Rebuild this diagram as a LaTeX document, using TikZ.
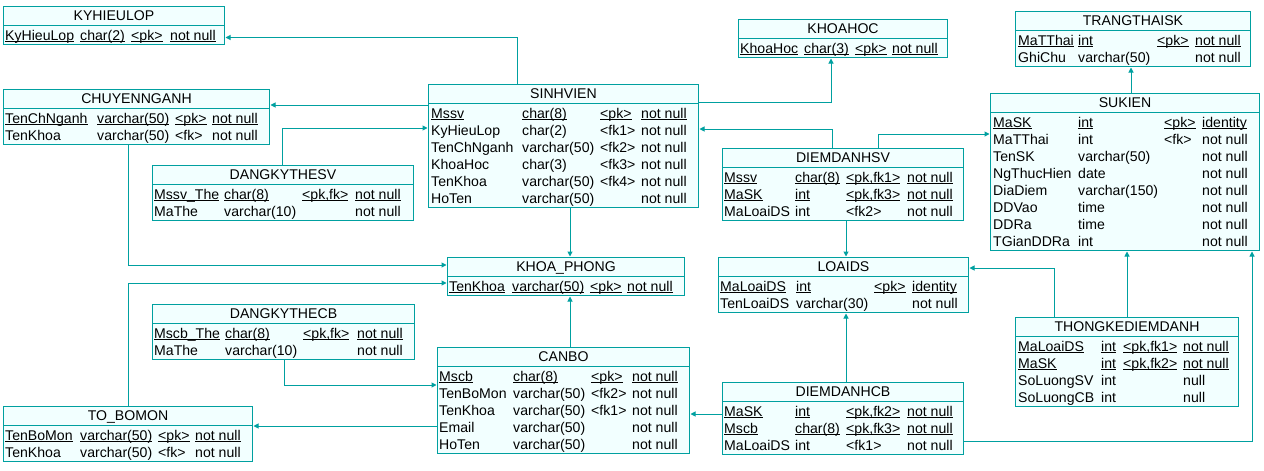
\documentclass[tikz,border=0pt]{standalone}
\usepackage{fontspec}
\setmainfont{Liberation Sans}
\usetikzlibrary{arrows.meta,positioning,calc}

\definecolor{tealLine}{RGB}{0,160,160}
\definecolor{tableFill}{RGB}{242,255,255}

\newcommand{\tablefont}{\fontsize{14.1}{16}\selectfont}
% underline at one fixed depth
\newcommand{\ul}[1]{\setbox0\hbox{#1}\rlap{\rule[-2pt]{\wd0}{0.75pt}}\box0}
% table: name, title, x, y (top left), width, number of rows
\newcommand{\dbtable}[6]{%
  \def\tblName{#1}\def\tblTop{#4}%
  \pgfmathsetmacro{\tblH}{21+17*#6}%
  \node[tbl, minimum width=#5pt, minimum height=\tblH pt] (#1) at (#3,#4) {};
  \draw[tblline] ([yshift=-19pt]#1.north west) -- ([yshift=-19pt]#1.north east);
  \node[title] (#1-title) at ([yshift=-14.5pt]#1.north) {#2};
}
\newcommand{\setcols}[4]{\def\colA{#1}\def\colB{#2}\def\colC{#3}\def\colD{#4}}
\newcommand{\dbrow}[5]{%
  \pgfmathsetmacro{\rowY}{\tblTop+34+17*(#1-1)}%
  \node[cell] (\tblName-#1a) at (\colA,\rowY) {#2};
  \node[cell] (\tblName-#1b) at (\colB,\rowY) {#3};
  \node[cell] (\tblName-#1c) at (\colC,\rowY) {#4};
  \node[cell] (\tblName-#1d) at (\colD,\rowY) {#5};
}
\newcommand{\dbkey}[5]{\dbrow{#1}{\ul{#2}}{\ul{#3}}{\ul{#4}}{\ul{#5}}}

\begin{document}
\begin{tikzpicture}[
    x=1pt, y=-1pt,
    % Styles
    tbl/.style={draw=tealLine, fill=tableFill, line width=1pt, inner sep=0pt, anchor=north west},
    tblline/.style={draw=tealLine, line width=1pt},
    title/.style={font=\tablefont, inner sep=0pt, anchor=base},
    cell/.style={font=\tablefont, inner sep=0pt, anchor=base west},
    fk/.style={-{Triangle[length=5pt,width=5pt]}, draw=tealLine, line width=1pt, shorten >=0.5pt}
  ]

  \path[fill=white] (0,0) rectangle (1264,471);
  \useasboundingbox (0,0) rectangle (1264,471);

  % --- 1. TABLES, LEFT ---
  \dbtable{kyhieulop}{KYHIEULOP}{3}{6}{221}{1}
  \setcols{5}{80}{131}{170}
  \dbkey{1}{KyHieuLop}{char(2)}{<pk>}{not null}

  \dbtable{chuyennganh}{CHUYENNGANH}{3}{89}{266}{2}
  \setcols{5}{97}{175}{212}
  \dbkey{1}{TenChNganh}{varchar(50)}{<pk>}{not null}
  \dbrow{2}{TenKhoa}{varchar(50)}{<fk>}{not null}

  \dbtable{dangkythesv}{DANGKYTHESV}{152}{165}{261}{2}
  \setcols{154}{224}{302}{355}
  \dbkey{1}{Mssv\_The}{char(8)}{<pk,fk>}{not null}
  \dbrow{2}{MaThe}{varchar(10)}{}{not null}

  \dbtable{dangkythecb}{DANGKYTHECB}{152}{304}{262}{2}
  \setcols{154}{225}{303}{357}
  \dbkey{1}{Mscb\_The}{char(8)}{<pk,fk>}{not null}
  \dbrow{2}{MaThe}{varchar(10)}{}{not null}

  \dbtable{tobomon}{TO\_BOMON}{3}{406}{249}{2}
  \setcols{5}{80}{158}{195}
  \dbkey{1}{TenBoMon}{varchar(50)}{<pk>}{not null}
  \dbrow{2}{TenKhoa}{varchar(50)}{<fk>}{not null}

  % --- 2. TABLES, MIDDLE ---
  \dbtable{sinhvien}{SINHVIEN}{428}{84}{270}{6}
  \setcols{431}{522}{600}{641}
  \dbkey{1}{Mssv}{char(8)}{<pk>}{not null}
  \dbrow{2}{KyHieuLop}{char(2)}{<fk1>}{not null}
  \dbrow{3}{TenChNganh}{varchar(50)}{<fk2>}{not null}
  \dbrow{4}{KhoaHoc}{char(3)}{<fk3>}{not null}
  \dbrow{5}{TenKhoa}{varchar(50)}{<fk4>}{not null}
  \dbrow{6}{HoTen}{varchar(50)}{}{not null}

  \dbtable{khoaphong}{KHOA\_PHONG}{447}{257}{237}{1}
  \setcols{449}{512}{590}{627}
  \dbkey{1}{TenKhoa}{varchar(50)}{<pk>}{not null}

  \dbtable{canbo}{CANBO}{437}{347}{252}{5}
  \setcols{439}{513}{591}{632}
  \dbkey{1}{Mscb}{char(8)}{<pk>}{not null}
  \dbrow{2}{TenBoMon}{varchar(50)}{<fk2>}{not null}
  \dbrow{3}{TenKhoa}{varchar(50)}{<fk1>}{not null}
  \dbrow{4}{Email}{varchar(50)}{}{not null}
  \dbrow{5}{HoTen}{varchar(50)}{}{not null}

  \dbtable{khoahoc}{KHOAHOC}{738}{19}{209}{1}
  \setcols{740}{804}{855}{892}
  \dbkey{1}{KhoaHoc}{char(3)}{<pk>}{not null}

  \dbtable{diemdanhsv}{DIEMDANHSV}{722}{148}{241}{3}
  \setcols{724}{795}{846}{907}
  \dbkey{1}{Mssv}{char(8)}{<pk,fk1>}{not null}
  \dbkey{2}{MaSK}{int}{<pk,fk3>}{not null}
  \dbrow{3}{MaLoaiDS}{int}{<fk2>}{not null}

  \dbtable{loaids}{LOAIDS}{718}{257}{250}{2}
  \setcols{720}{796}{874}{912}
  \dbkey{1}{MaLoaiDS}{int}{<pk>}{identity}
  \dbrow{2}{TenLoaiDS}{varchar(30)}{}{not null}

  \dbtable{diemdanhcb}{DIEMDANHCB}{722}{382}{241}{3}
  \setcols{724}{795}{846}{907}
  \dbkey{1}{MaSK}{int}{<pk,fk2>}{not null}
  \dbkey{2}{Mscb}{char(8)}{<pk,fk3>}{not null}
  \dbrow{3}{MaLoaiDS}{int}{<fk1>}{not null}

  % --- 3. TABLES, RIGHT ---
  \dbtable{trangthaisk}{TRANGTHAISK}{1015}{11}{235}{2}
  \setcols{1018}{1078}{1157}{1195}
  \dbkey{1}{MaTThai}{int}{<pk>}{not null}
  \dbrow{2}{GhiChu}{varchar(50)}{}{not null}

  \dbtable{sukien}{SUKIEN}{990}{93}{269}{8}
  \setcols{993}{1078}{1164}{1202}
  \dbkey{1}{MaSK}{int}{<pk>}{identity}
  \dbrow{2}{MaTThai}{int}{<fk>}{not null}
  \dbrow{3}{TenSK}{varchar(50)}{}{not null}
  \dbrow{4}{NgThucHien}{date}{}{not null}
  \dbrow{5}{DiaDiem}{varchar(150)}{}{not null}
  \dbrow{6}{DDVao}{time}{}{not null}
  \dbrow{7}{DDRa}{time}{}{not null}
  \dbrow{8}{TGianDDRa}{int}{}{not null}

  \dbtable{thongke}{THONGKEDIEMDANH}{1015}{317}{223}{4}
  \setcols{1018}{1101}{1123}{1183}
  \dbkey{1}{MaLoaiDS}{int}{<pk,fk1>}{not null}
  \dbkey{2}{MaSK}{int}{<pk,fk2>}{not null}
  \dbrow{3}{SoLuongSV}{int}{}{null}
  \dbrow{4}{SoLuongCB}{int}{}{null}

  % --- 4. REFERENCES ---
  \draw[fk] (sinhvien.north -| 517,0) |- (kyhieulop.east |- 0,37.5);
  \draw[fk] (sinhvien.west |- 0,105) -- (chuyennganh.east |- 0,105);
  \draw[fk] (dangkythesv.north -| 282,0) |- (sinhvien.west |- 0,128);
  \draw[fk] (chuyennganh.south -| 128,0) |- (khoaphong.west |- 0,265);
  \draw[fk] (tobomon.north -| 128,0) |- (khoaphong.west |- 0,283);
  \draw[fk] (sinhvien.south -| 570,0) -- (khoaphong.north -| 570,0);
  \draw[fk] (canbo.north -| 570,0) -- (khoaphong.south -| 570,0);
  \draw[fk] (sinhvien.east |- 0,102) -| (khoahoc.south -| 831,0);
  \draw[fk] (diemdanhsv.north -| 832,0) |- (sinhvien.east |- 0,129);
  \draw[fk] (diemdanhsv.north -| 878,0) |- (sukien.west |- 0,134);
  \draw[fk] (diemdanhsv.south -| 846,0) -- (loaids.north -| 846,0);
  \draw[fk] (sukien.north -| 1131,0) -- (trangthaisk.south -| 1131,0);
  \draw[fk] (thongke.north -| 1054,0) |- (loaids.east |- 0,268);
  \draw[fk] (thongke.north -| 1127,0) -- (sukien.south -| 1127,0);
  \draw[fk] (diemdanhcb.east |- 0,441) -| (sukien.south -| 1252,0);
  \draw[fk] (diemdanhcb.north -| 846,0) -- (loaids.south -| 846,0);
  \draw[fk] (diemdanhcb.west |- 0,414) -- (canbo.east |- 0,414);
  \draw[fk] (dangkythecb.south -| 284,0) |- (canbo.west |- 0,385);
  \draw[fk] (canbo.west |- 0,426) -- (tobomon.east |- 0,426);

\end{tikzpicture}
\end{document}
